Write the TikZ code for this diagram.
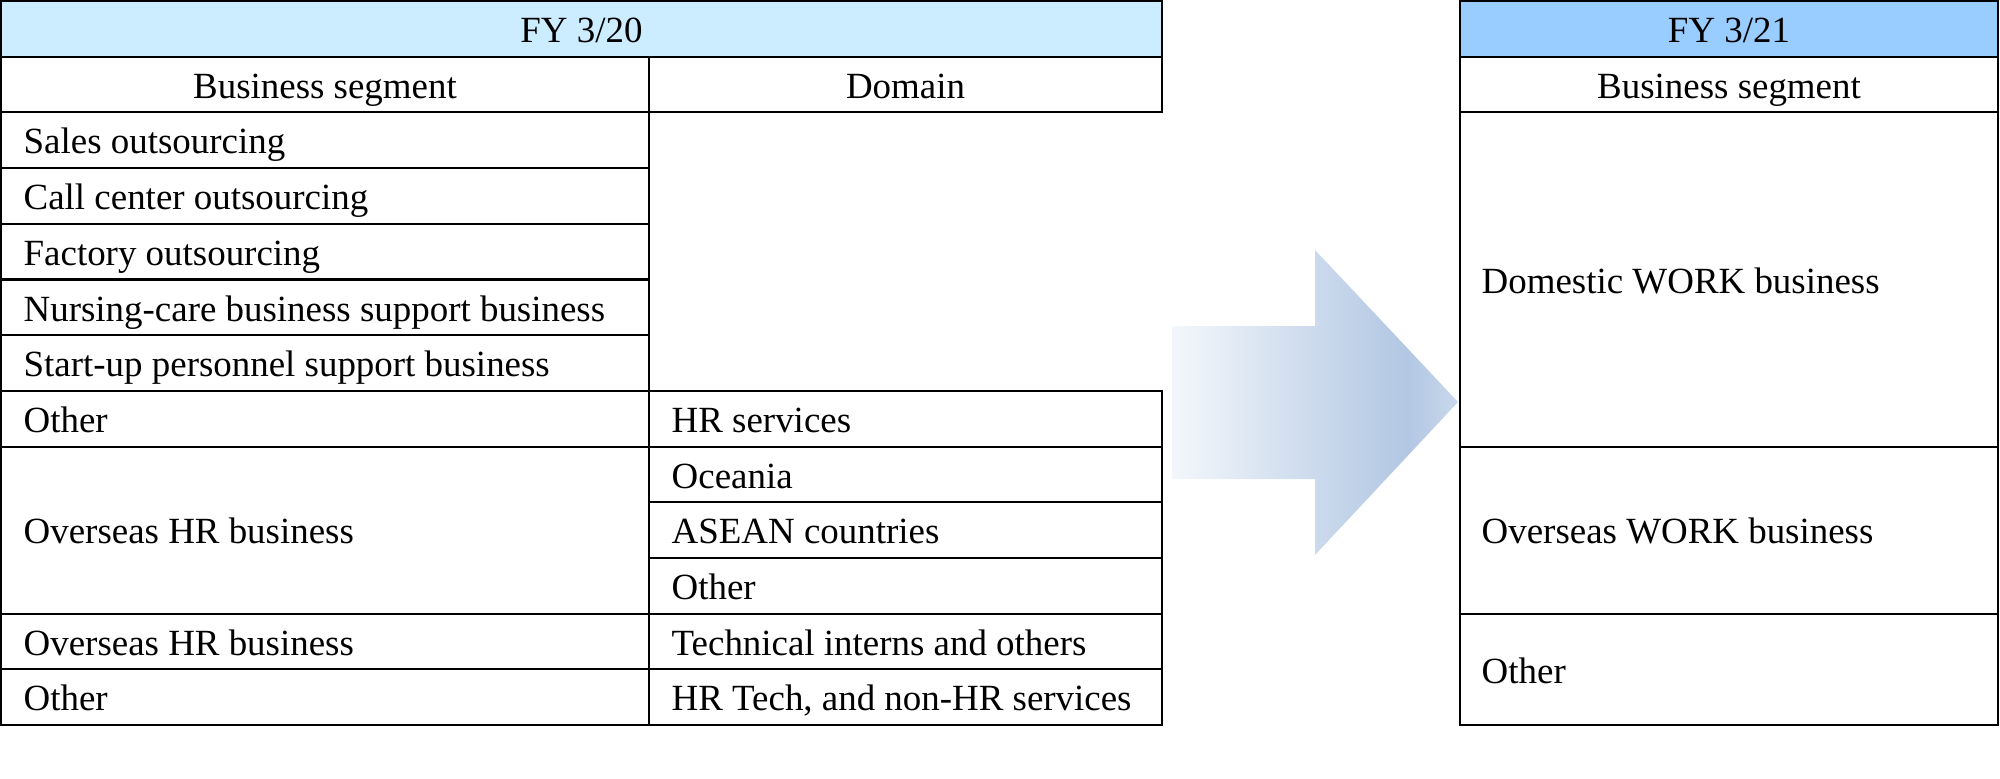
\documentclass[tikz,border=0pt]{standalone}
\usepackage{fontspec}
\setmainfont{Liberation Serif}
\definecolor{headold}{HTML}{CCECFF}
\definecolor{headnew}{HTML}{99CCFF}
\definecolor{arrowa}{HTML}{F3F7FB}
\definecolor{arrowb}{HTML}{B2C7E3}
\definecolor{arrowc}{HTML}{C9D8EC}
\pgfdeclarehorizontalshading{arrowshade}{100bp}{color(0bp)=(arrowa); color(25bp)=(arrowa); color(66bp)=(arrowb); color(75bp)=(arrowc); color(100bp)=(arrowc)}
\tikzset{
	txt/.style={anchor=base west, inner sep=0pt, font=\fontsize{10.5}{12.6}\selectfont},
	ctxt/.style={txt, anchor=base},
	grid/.style={draw=black, line width=0.6pt}
}

\begin{document}
\begin{tikzpicture}[x=0.01cm, y=-0.01cm]
			%%%%% START %%%%%
			\useasboundingbox (0, 0) rectangle (2000, 779);
			
			% FY 3/20
			\draw[grid, fill=headold] (1, 1) rectangle (1162, 56.7);
			\draw[grid] (1, 56.7) rectangle (1162, 112.4);
			\draw[grid] (649, 56.7) -- (649, 112.4);
			\node[ctxt] (oldhead) at (581.5, 42.55) {FY 3/20};
			\node[ctxt] (oldseg) at (325, 98.25) {Business segment};
			\node[ctxt] (olddom) at (905.5, 98.25) {Domain};
			
			\draw[grid] (1, 112.4) rectangle (649, 168.1);
			\draw[grid] (1, 168.1) rectangle (649, 223.8);
			\draw[grid] (1, 223.8) rectangle (649, 279.5);
			\draw[grid] (1, 279.5) rectangle (649, 335.2);
			\draw[grid] (1, 335.2) rectangle (649, 390.9);
			\draw[grid] (1, 390.9) rectangle (649, 446.6);
			\draw[grid] (1, 446.6) rectangle (649, 613.7);
			\draw[grid] (1, 613.7) rectangle (649, 669.4);
			\draw[grid] (1, 669.4) rectangle (649, 725.1);
			
			\draw[grid] (649, 390.9) rectangle (1162, 446.6);
			\draw[grid] (649, 446.6) rectangle (1162, 502.3);
			\draw[grid] (649, 502.3) rectangle (1162, 558);
			\draw[grid] (649, 558) rectangle (1162, 613.7);
			\draw[grid] (649, 613.7) rectangle (1162, 669.4);
			\draw[grid] (649, 669.4) rectangle (1162, 725.1);
			
			\node[txt] (sales) at (23, 153.95) {Sales outsourcing};
			\node[txt] (callctr) at (23, 209.65) {Call center outsourcing};
			\node[txt] (factory) at (23, 265.35) {Factory outsourcing};
			\node[txt] (nursing) at (23, 321.05) {Nursing-care business support business};
			\node[txt] (startup) at (23, 376.75) {Start-up personnel support business};
			\node[txt] (othera) at (23, 432.45) {Other};
			\node[txt] (overseasa) at (23, 543.85) {Overseas HR business};
			\node[txt] (overseasb) at (23, 655.25) {Overseas HR business};
			\node[txt] (otherc) at (23, 710.95) {Other};
			
			\node[txt] (hrserv) at (671, 432.45) {HR services};
			\node[txt] (oceania) at (671, 488.15) {Oceania};
			\node[txt] (asean) at (671, 543.85) {ASEAN countries};
			\node[txt] (otherb) at (671, 599.55) {Other};
			\node[txt] (interns) at (671, 655.25) {Technical interns and others};
			\node[txt] (hrtech) at (671, 710.95) {HR Tech, and non-HR services};
			
			% arrow
			\shade[shading=arrowshade] (1172, 326) -- (1315, 326) -- (1315, 250) -- (1458, 402) -- (1315, 555) -- (1315, 479) -- (1172, 479) -- cycle;
			
			% FY 3/21
			\draw[grid, fill=headnew] (1460, 1) rectangle (1998, 56.7);
			\draw[grid] (1460, 56.7) rectangle (1998, 112.4);
			\draw[grid] (1460, 112.4) rectangle (1998, 446.6);
			\draw[grid] (1460, 446.6) rectangle (1998, 613.7);
			\draw[grid] (1460, 613.7) rectangle (1998, 725.1);
			\node[ctxt] (newhead) at (1729, 42.55) {FY 3/21};
			\node[ctxt] (newseg) at (1729, 98.25) {Business segment};
			\node[txt] (domestic) at (1481, 293.2) {Domestic WORK business};
			\node[txt] (overseasnew) at (1481, 543.85) {Overseas WORK business};
			\node[txt] (othernew) at (1481, 683.1) {Other};
			
			%%%%% END %%%%%
\end{tikzpicture}
\end{document}
